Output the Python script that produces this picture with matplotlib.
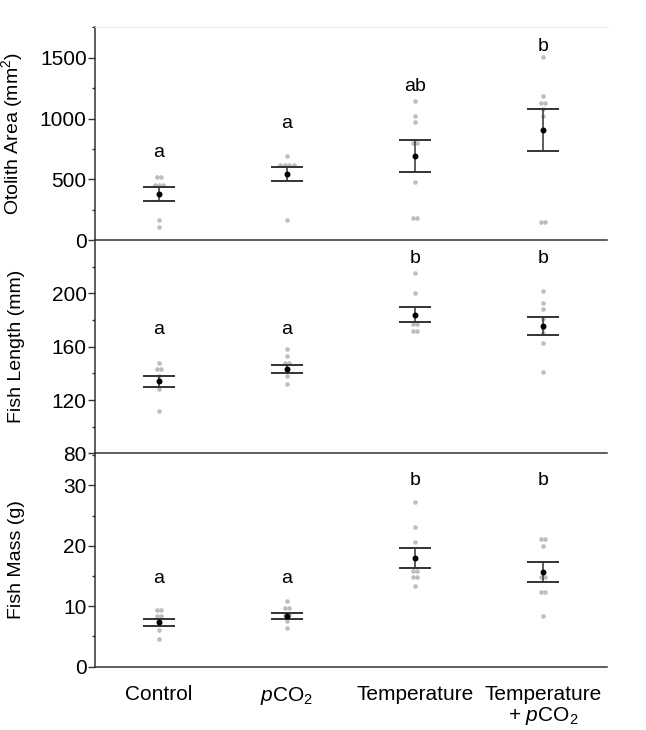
import matplotlib
matplotlib.use("Agg")
import matplotlib.pyplot as plt
import numpy as np

plt.rcParams['font.family'] = ['Liberation Sans', 'DejaVu Sans']
plt.rcParams['mathtext.fontset'] = 'custom'
plt.rcParams['mathtext.rm'] = 'Liberation Sans'
plt.rcParams['mathtext.it'] = 'Liberation Sans:italic'

groups = ["Control", "$p$CO$_2$", "Temperature", "Temperature\n+ $p$CO$_2$"]

# otolith area (mm2)
oto_pts = [
    [516, 516, 456, 456, 456, 165, 110],
    [689, 621, 621, 621, 621, 162],
    [1143, 1023, 968, 797, 797, 475, 178, 178],
    [1503, 1187, 1132, 1132, 1075, 1022, 146, 146],
]
oto_mean = [380, 545, 690, 904]
oto_se = [56, 60, 133, 175]
oto_letters = ["a", "a", "ab", "b"]
oto_letter_y = [687, 926, 1223, 1556]

# fish length (mm)
len_pts = [
    [148, 143, 143, 138, 128, 112],
    [158, 153, 148, 148, 143, 138, 132],
    [215, 200, 177, 177, 171.5, 171.5],
    [202, 193, 188, 181, 174, 170, 163, 141],
]
len_mean = [134, 143.5, 184, 175.5]
len_se = [3.9, 2.9, 5.6, 6.8]
len_letters = ["a", "a", "b", "b"]
len_letter_y = [169.5, 169.5, 223, 223]

# fish mass (g)
mass_pts = [
    [9.45, 9.45, 8.35, 8.35, 7.3, 6.1, 4.6],
    [10.9, 9.7, 9.7, 8.6, 8.6, 7.5, 6.45],
    [27.2, 23.1, 20.65, 15.9, 15.9, 14.9, 14.9, 13.4],
    [21.2, 21.2, 20.05, 14.9, 14.9, 12.4, 12.4, 8.45],
]
mass_mean = [7.35, 8.4, 18.0, 15.6]
mass_se = [0.58, 0.47, 1.72, 1.65]
mass_letters = ["a", "a", "b", "b"]
mass_letter_y = [13.9, 13.9, 30.0, 30.0]

panels = [
    (oto_pts, oto_mean, oto_se, oto_letters, oto_letter_y,
     "Otolith Area (mm$^2$)", (0, 1756), [0, 500, 1000, 1500], 250),
    (len_pts, len_mean, len_se, len_letters, len_letter_y,
     "Fish Length (mm)", (80, 240), [80, 120, 160, 200], 20),
    (mass_pts, mass_mean, mass_se, mass_letters, mass_letter_y,
     "Fish Mass (g)", (0, 35.3), [0, 10, 20, 30], 5),
]

fig = plt.figure(figsize=(6.46, 7.3), dpi=100)
left, right = 95 / 646, 607 / 646
bottom, top = 1 - 666.7 / 730, 1 - 26.7 / 730
h = (top - bottom) / 3
dark = "#333333"
step = 0.034

for i, (pts, mean, se, letters, ly, label, ylim, yt, minor) in enumerate(panels):
    ax = fig.add_axes([left, top - (i + 1) * h, right - left, h])
    x = np.arange(len(groups))
    for j, vals in enumerate(pts):
        vals = np.array(vals, dtype=float)
        offs = np.zeros(len(vals))
        for v in np.unique(vals):
            idx = np.where(vals == v)[0]
            offs[idx] = (np.arange(len(idx)) - (len(idx) - 1) / 2) * step
        ax.plot(x[j] + offs, vals, "o", color="#bdbdbd", ms=3.3, mew=0, zorder=1)
    ax.errorbar(x, mean, yerr=se, fmt="none", ecolor=dark, elinewidth=1.1,
                capsize=11.5, capthick=1.4, zorder=2)
    ax.plot(x, mean, "o", color="black", ms=4.3, mew=0, zorder=3)
    for j, t in enumerate(letters):
        ax.text(x[j], ly[j], t, ha="center", va="baseline", fontsize=14)

    ax.set_xlim(-0.5, 3.5)
    ax.set_ylim(*ylim)
    ax.set_yticks(yt)
    ax.set_yticks(np.arange(ylim[0] + minor, ylim[1], minor), minor=True)
    ax.set_ylabel(label, fontsize=14)
    ax.yaxis.set_label_coords(-0.136, 0.5)
    ax.tick_params(axis="y", which="major", length=5, width=1, color=dark,
                   labelsize=15, pad=1)
    ax.tick_params(axis="y", which="minor", length=2.5, width=1, color=dark)
    ax.set_xticks(x)
    if i == 2:
        ax.set_xticklabels(groups, fontsize=15, linespacing=1.1)
        ax.tick_params(axis="x", length=0, pad=13)
    else:
        ax.set_xticklabels([])
        ax.tick_params(axis="x", length=0)
    ax.spines["right"].set_visible(False)
    if i == 0:
        ax.spines["top"].set_color("#ebebeb")
        ax.spines["top"].set_linewidth(0.8)
    else:
        ax.spines["top"].set_visible(False)
    for s in ("left", "bottom"):
        ax.spines[s].set_color(dark)
        ax.spines[s].set_linewidth(1.1)
    ax.patch.set_alpha(0)

fig.savefig("out.png", dpi=100)
